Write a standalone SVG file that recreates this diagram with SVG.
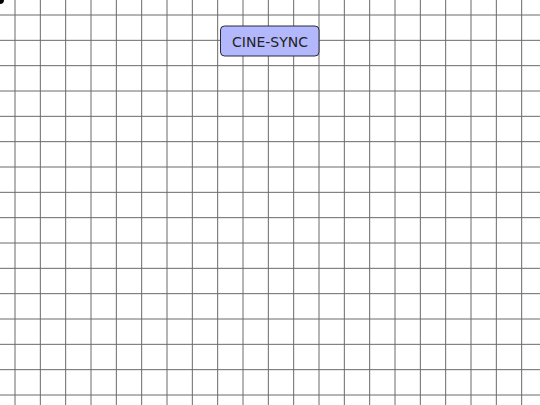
<svg xmlns="http://www.w3.org/2000/svg" width="540" height="405" viewBox="0 0 540 405">
<style>
.grid line{stroke:#6a6a6a;stroke-width:1}
.node rect{fill:#b3b8fd;stroke:#2a2a3a;stroke-width:1}
.node text{font-family:"DejaVu Sans",sans-serif;font-size:14px;fill:#222;text-anchor:middle}
</style>
<rect width="540" height="405" fill="#ffffff"/>
<g class="grid">
<line x1="15" y1="0" x2="15" y2="405"/>
<line x1="40.33" y1="0" x2="40.33" y2="405"/>
<line x1="65.67" y1="0" x2="65.67" y2="405"/>
<line x1="91" y1="0" x2="91" y2="405"/>
<line x1="116.33" y1="0" x2="116.33" y2="405"/>
<line x1="141.67" y1="0" x2="141.67" y2="405"/>
<line x1="167" y1="0" x2="167" y2="405"/>
<line x1="192.33" y1="0" x2="192.33" y2="405"/>
<line x1="217.67" y1="0" x2="217.67" y2="405"/>
<line x1="243" y1="0" x2="243" y2="405"/>
<line x1="268.33" y1="0" x2="268.33" y2="405"/>
<line x1="293.67" y1="0" x2="293.67" y2="405"/>
<line x1="319" y1="0" x2="319" y2="405"/>
<line x1="344.33" y1="0" x2="344.33" y2="405"/>
<line x1="369.67" y1="0" x2="369.67" y2="405"/>
<line x1="395" y1="0" x2="395" y2="405"/>
<line x1="420.33" y1="0" x2="420.33" y2="405"/>
<line x1="445.67" y1="0" x2="445.67" y2="405"/>
<line x1="471" y1="0" x2="471" y2="405"/>
<line x1="496.33" y1="0" x2="496.33" y2="405"/>
<line x1="521.67" y1="0" x2="521.67" y2="405"/>
<line x1="0" y1="15" x2="540" y2="15"/>
<line x1="0" y1="40.33" x2="540" y2="40.33"/>
<line x1="0" y1="65.67" x2="540" y2="65.67"/>
<line x1="0" y1="91" x2="540" y2="91"/>
<line x1="0" y1="116.33" x2="540" y2="116.33"/>
<line x1="0" y1="141.67" x2="540" y2="141.67"/>
<line x1="0" y1="167" x2="540" y2="167"/>
<line x1="0" y1="192.33" x2="540" y2="192.33"/>
<line x1="0" y1="217.67" x2="540" y2="217.67"/>
<line x1="0" y1="243" x2="540" y2="243"/>
<line x1="0" y1="268.33" x2="540" y2="268.33"/>
<line x1="0" y1="293.67" x2="540" y2="293.67"/>
<line x1="0" y1="319" x2="540" y2="319"/>
<line x1="0" y1="344.33" x2="540" y2="344.33"/>
<line x1="0" y1="369.67" x2="540" y2="369.67"/>
<line x1="0" y1="395" x2="540" y2="395"/>
</g>
<circle cx="0" cy="0" r="4" fill="#000000"/>
<g id="connectors"></g>
<g id="node-cine-sync" class="node">
<rect x="220.5" y="26" width="98.5" height="30" rx="4" ry="4"/>
<text x="270" y="46.5">CINE-SYNC</text>
</g>
</svg>
